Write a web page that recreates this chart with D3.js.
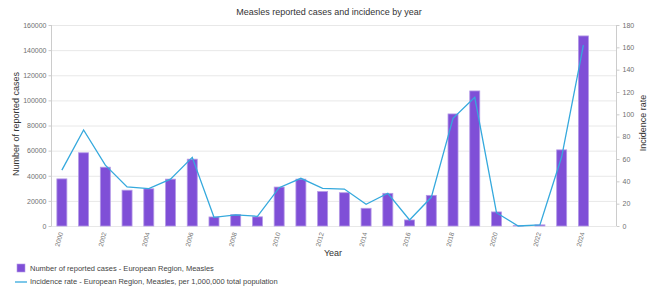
<!DOCTYPE html>
<html>
<head>
<meta charset="utf-8">
<title>Measles reported cases and incidence by year</title>
<script src="https://d3js.org/d3.v7.min.js"></script>
<style>
  body { margin: 0; background: #fff; }
  svg { font-family: "Liberation Sans", Arial, sans-serif; display: block; }
  .tick text { fill: #707070; font-size: 7px; }
  .grid line { stroke: #e8e8e8; }
  .axis path, .axis line { stroke: #ccc; }
</style>
</head>
<body>
<svg id="chart" width="658" height="287"></svg>
<script>
// values
var years = d3.range(2000, 2025);
var cases = [37500, 58300, 46800, 28500, 29600, 37300, 53200, 7200, 9000, 7300,
             31000, 37300, 27400, 26500, 14100, 26000, 4800, 24400, 89200, 107500,
             11200, 300, 900, 60600, 151300];
var incidence = [50, 86, 54.5, 35, 33.5, 42, 61.5, 7.8, 10, 8.7,
                 34.3, 42.7, 33.7, 33.1, 19.4, 29.3, 5.4, 25.7, 96.4, 115.2,
                 11.9, 0, 1, 62, 162];
var caseTicks = d3.range(0, 160001, 20000);
var rateTicks = d3.range(0, 181, 20);
var yearTicks = d3.range(2000, 2025, 2);

var svg = d3.select("#chart");
var m = {left: 51, right: 616, top: 25, bottom: 226};

// one empty slot after 2024, like the original
var x = d3.scaleBand()
    .domain(years.concat([2025]))
    .range([m.left, m.right])
    .paddingInner(0.54)
    .paddingOuter(0.27);

var yL = d3.scaleLinear().domain([0, 160000]).range([m.bottom, m.top]);
var yR = d3.scaleLinear().domain([0, 180]).range([m.bottom, m.top]);

// gridlines
svg.append("g").attr("class", "grid")
  .selectAll("line").data(caseTicks).enter().append("line")
    .attr("x1", m.left).attr("x2", m.right)
    .attr("y1", function(d) { return yL(d) + 0.5; })
    .attr("y2", function(d) { return yL(d) + 0.5; });

// left axis
var gl = svg.append("g").attr("class", "axis")
    .attr("transform", "translate(" + (m.left + 0.5) + ",0)")
    .call(d3.axisLeft(yL).tickValues(caseTicks).tickSize(3).tickPadding(2).tickFormat(d3.format("d")));
gl.select(".domain").attr("d", "M0," + m.top + "V" + m.bottom);

// right axis
var gr = svg.append("g").attr("class", "axis")
    .attr("transform", "translate(" + (m.right + 0.5) + ",0)")
    .call(d3.axisRight(yR).tickValues(rateTicks).tickSize(3).tickPadding(3).tickFormat(d3.format("d")));
gr.select(".domain").attr("d", "M0," + m.top + "V" + m.bottom);

// bottom axis
var gb = svg.append("g").attr("class", "axis")
    .attr("transform", "translate(0," + (m.bottom + 0.5) + ")")
    .call(d3.axisBottom(x).tickValues(yearTicks).tickSize(0).tickPadding(0));
gb.select(".domain").remove();
gb.selectAll(".tick text")
    .style("font-size", "6.5px")
    .attr("text-anchor", "end")
    .attr("dy", "0.35em")
    .attr("transform", "translate(-1,6) rotate(-75)");

// bars
svg.append("g").selectAll("rect")
  .data(years).enter().append("rect")
    .attr("x", function(d) { return x(d); })
    .attr("width", x.bandwidth())
    .attr("y", function(d, i) { return yL(cases[i]); })
    .attr("height", function(d, i) { return m.bottom - yL(cases[i]); })
    .attr("fill", "#7f4fd7")
    .attr("stroke", "#b49ae6")
    .attr("stroke-width", 0.8);

// incidence line
var line = d3.line()
    .x(function(d, i) { return x(years[i]) + x.bandwidth() / 2; })
    .y(function(d) { return yR(d); });

svg.append("path")
    .datum(incidence)
    .attr("fill", "none")
    .attr("stroke", "#35a9dd")
    .attr("stroke-width", 1.3)
    .attr("d", line);

// titles
svg.append("text")
    .attr("x", 329).attr("y", 15)
    .attr("text-anchor", "middle")
    .style("font-size", "9px").style("fill", "#333")
    .text("Measles reported cases and incidence by year");

svg.append("text")
    .attr("transform", "translate(19,124) rotate(-90)")
    .attr("text-anchor", "middle")
    .style("font-size", "9px").style("fill", "#333")
    .text("Number of reported cases");

svg.append("text")
    .attr("transform", "translate(646,123) rotate(-90)")
    .attr("text-anchor", "middle")
    .style("font-size", "9px").style("fill", "#333")
    .text("Incidence rate");

svg.append("text")
    .attr("x", 333).attr("y", 256)
    .attr("text-anchor", "middle")
    .style("font-size", "9px").style("fill", "#333")
    .text("Year");

// legend
var legend = svg.append("g").style("font-size", "7.5px").style("fill", "#444");
legend.append("rect")
    .attr("x", 17).attr("y", 264).attr("width", 8).attr("height", 8)
    .attr("fill", "#7f4fd7").attr("stroke", "#b49ae6").attr("stroke-width", 0.6);
legend.append("text").attr("x", 30).attr("y", 271)
    .text("Number of reported cases - European Region, Measles");
legend.append("line")
    .attr("x1", 15).attr("x2", 27).attr("y1", 282).attr("y2", 282)
    .attr("stroke", "#35a9dd").attr("stroke-width", 1.3);
legend.append("text").attr("x", 30).attr("y", 284)
    .text("Incidence rate - European Region, Measles, per 1,000,000 total population");
</script>
</body>
</html>
